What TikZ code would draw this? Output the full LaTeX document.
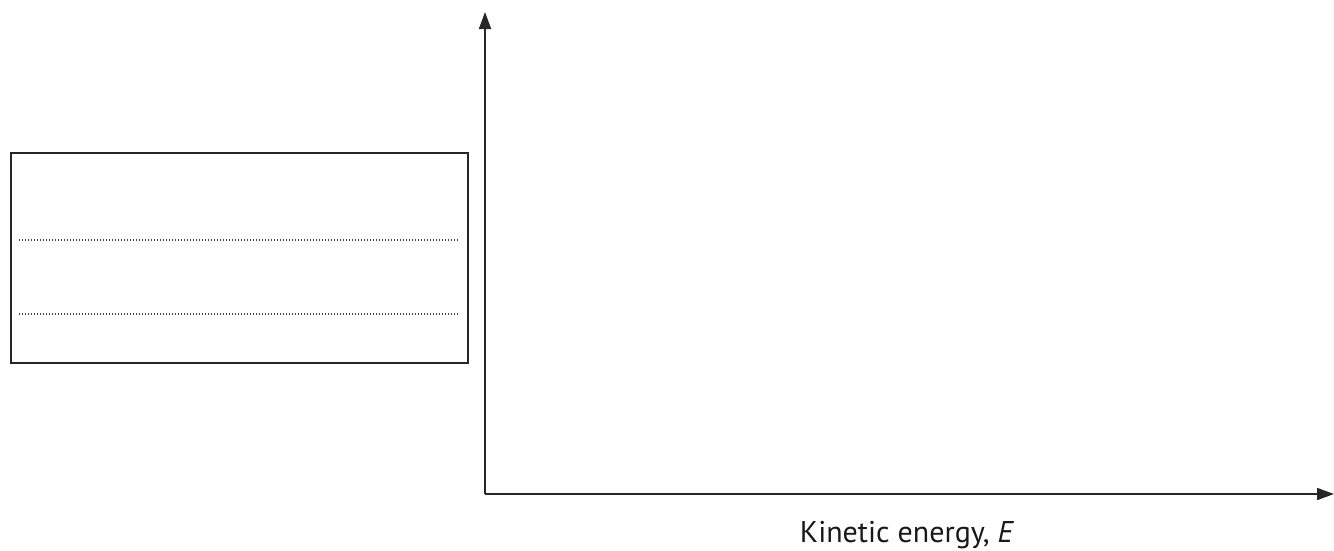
\documentclass[tikz,border=0pt]{standalone}
\usepackage{fontspec}
\setmainfont{PT Sans}
\usetikzlibrary{arrows.meta}
\begin{document}
\begin{tikzpicture}[x=1pt,y=-1pt,
  axis/.style={line width=1.8pt,color=black!85,-{Triangle[length=17pt,width=12pt]}},
  panel/.style={draw=black!85,line width=2.2pt},
  dots/.style={line width=1.2pt,dash pattern=on 1.2pt off 1.8pt,color=black!75}]
\useasboundingbox (0,0) rectangle (1334,550);
\node[panel,minimum width=457pt,minimum height=210pt,inner sep=0pt,anchor=north west] (box) at (10,152) {};
\coordinate (o) at (485,494);
\coordinate (ytip) at (485,12);
\coordinate (xtip) at (1334,494);
\coordinate (d1a) at (19,240);
\coordinate (d1b) at (458,240);
\coordinate (d2a) at (19,314);
\coordinate (d2b) at (458,314);
\draw[dots] (d1a) -- (d1b);
\draw[dots] (d2a) -- (d2b);
\draw[axis] (o) -- (ytip);
\draw[axis] (o) -- (xtip);
\node[font=\fontsize{30}{36}\selectfont,anchor=base,color=black!90] (lab) at (907,542) {Kinetic energy, \textit{E}};
\end{tikzpicture}
\end{document}
